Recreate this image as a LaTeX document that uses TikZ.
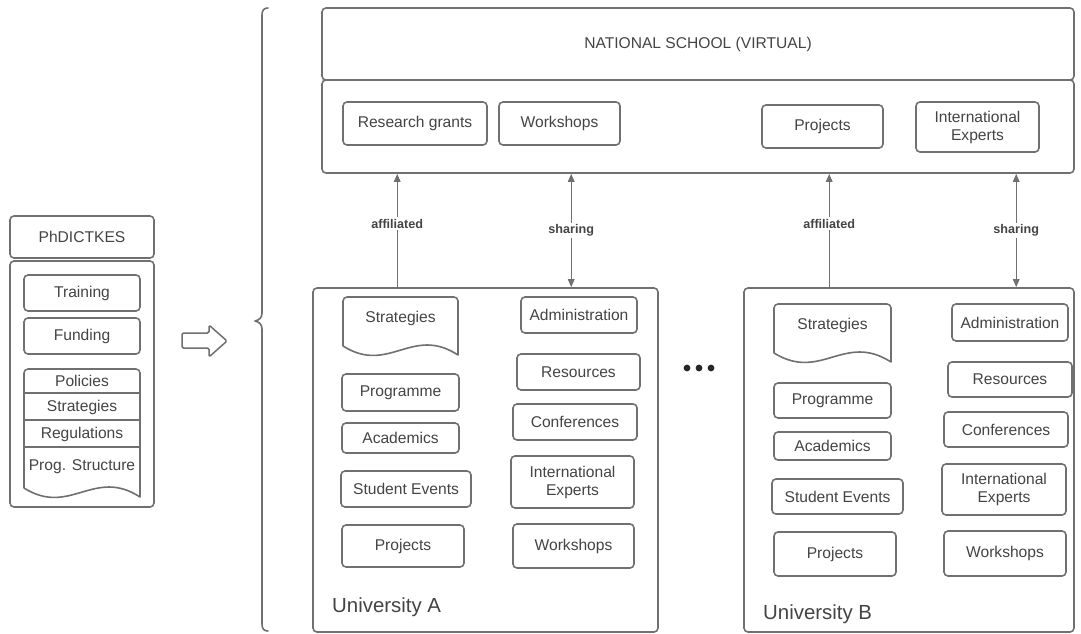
\documentclass[tikz,border=0pt]{standalone}
\usepackage{fontspec}
\setmainfont{Liberation Sans}
\usetikzlibrary{arrows.meta}
\definecolor{ln}{RGB}{112,112,112}
\definecolor{tx}{RGB}{68,68,68}
\tikzset{
  txt/.style={text=tx, font=\fontsize{15.6}{18}\selectfont},
  rb/.style={draw=ln, line width=1.6pt, rounded corners=4pt, inner sep=0pt, txt, align=center},
  con/.style={draw=ln, line width=1.3pt},
  tip/.style={-{Triangle[length=8pt,width=6.5pt]}},
  both/.style={{Triangle[length=8pt,width=6.5pt]}-{Triangle[length=8pt,width=6.5pt]}},
  lbl/.style={fill=white, inner sep=2pt, text=tx, font=\bfseries\fontsize{12.6}{14}\selectfont},
  unilbl/.style={text=tx, font=\fontsize{20.4}{23}\selectfont, anchor=west, inner sep=0pt},
  docu/.style={draw=ln, line width=1.6pt, line join=round}
}
% \bx{style}{name}{x1}{y1}{x2}{y2}{text}
\newcommand{\bx}[7]{\node[#1, minimum width={(#5-#3)*1pt}, minimum height={(#6-#4)*1pt}] (#2) at ({(#3+#5)/2},{(#4+#6)/2}) {#7};}
% \docshape{name}{x1}{ytop}{x2}{ybottom-right}{text}{texty}
\newcommand{\docshape}[7]{%
  \draw[docu] (#2,{#5-9}) [rounded corners=4pt] -- (#2,#3) -- (#4,#3) -- (#4,{#5-12}) [sharp corners] -- (#4,#5)
    .. controls ({#2+0.6*(#4-#2)},{#5-30}) and ({#2+0.4*(#4-#2)},{#5+20}) .. (#2,{#5-9});
  \node[txt, inner sep=0pt] (#1) at ({(#2+#4)/2},#7) {#6};}
\begin{document}
\begin{tikzpicture}[x=1pt,y=-1pt]
\useasboundingbox[fill=white] (0,0) rectangle (1081,634);

% ---------- PhDICTKES ----------
\bx{rb}{ph}{10}{216}{154}{258}{PhDICTKES}
\bx{rb}{phb}{10}{261}{154}{507}{}
\bx{rb}{tr}{24}{275}{140}{311}{Training}
\bx{rb}{fu}{24}{318}{140}{354}{Funding}
\draw[docu] (24,488) [rounded corners=4pt] -- (24,369) -- (140,369) -- (140,480) [sharp corners] -- (140,497)
  .. controls (94,467) and (70,517) .. (24,488);
\draw[docu] (24,393) -- (140,393) (24,420) -- (140,420) (24,447) -- (140,447);
\node[txt, inner sep=0pt] (po) at (82,381) {Policies};
\node[txt, inner sep=0pt] (st) at (82,407) {Strategies};
\node[txt, inner sep=0pt] (re) at (82,434) {Regulations};
\node[txt, inner sep=0pt] (ps) at (82,467) {Prog. Structure};

% hollow arrow
\draw[docu, line width=1.5pt, rounded corners=1.5pt] (182,333) -- (209,333) -- (209,325) -- (227,341) -- (209,357) -- (209,348) -- (182,348) -- cycle;

% brace
\draw[ln, line width=1.6pt, line cap=round, line join=round]
  (268,8) .. controls (264,8) and (262,10) .. (262,15) -- (262,313)
  .. controls (262,318) and (259,320) .. (255,321)
  .. controls (259,322) and (262,324) .. (262,329) -- (262,624)
  .. controls (262,629) and (264,631) .. (268,631);

% ---------- National school ----------
\bx{rb}{ns}{322}{8}{1074}{80}{NATIONAL SCHOOL (VIRTUAL)}
\bx{rb}{ns2}{322}{80}{1074}{173}{}
\bx{rb}{nrg}{343}{102}{487}{145}{Research grants}
\bx{rb}{nws}{499}{102}{620}{145}{Workshops}
\bx{rb}{npr}{762}{105}{883}{148}{Projects}
\bx{rb}{nie}{916}{102}{1039}{152}{International\\Experts}

% ---------- University A ----------
\bx{rb}{uA}{313}{288}{658}{632}{}
\node[unilbl] (uAl) at (332,607) {University A};
\docshape{aSt}{343}{297}{458}{355}{Strategies}{318}
\bx{rb}{aAd}{521}{297}{637}{333}{Administration}
\bx{rb}{aRe}{517}{354}{640}{390}{Resources}
\bx{rb}{aPr}{342}{374}{459}{411}{Programme}
\bx{rb}{aCo}{513}{404}{637}{440}{Conferences}
\bx{rb}{aAc}{342}{423}{459}{453}{Academics}
\bx{rb}{aIE}{511}{456}{634}{508}{International\\Experts}
\bx{rb}{aSE}{341}{471}{471}{507}{Student Events}
\bx{rb}{aPj}{342}{525}{464}{567}{Projects}
\bx{rb}{aWs}{513}{524}{634}{568}{Workshops}

% ---------- University B ----------
\bx{rb}{uB}{744}{288}{1074}{632}{}
\node[unilbl] (uBl) at (763,614) {University B};
\docshape{bSt}{774}{304}{891}{362}{Strategies}{325}
\bx{rb}{bAd}{952}{304}{1068}{341}{Administration}
\bx{rb}{bRe}{948}{362}{1072}{397}{Resources}
\bx{rb}{bPr}{774}{383}{891}{418}{Programme}
\bx{rb}{bCo}{944}{412}{1068}{447}{Conferences}
\bx{rb}{bAc}{774}{432}{891}{460}{Academics}
\bx{rb}{bIE}{942}{464}{1066}{515}{International\\Experts}
\bx{rb}{bSE}{772}{479}{903}{514}{Student Events}
\bx{rb}{bPj}{774}{532}{896}{576}{Projects}
\bx{rb}{bWs}{944}{531}{1066}{576}{Workshops}

% dots
\fill[black!85] (687,368) circle[radius=3.4] (699,368) circle[radius=3.4] (711,368) circle[radius=3.4];

% ---------- connectors ----------
\coordinate (a1) at ([xshift=85pt]uA.north west);
\coordinate (a2) at ([xshift=259pt]uA.north west);
\coordinate (b1) at ([xshift=86pt]uB.north west);
\coordinate (b2) at ([xshift=273pt]uB.north west);
\draw[con, tip] (a1) -- node[lbl, pos=0.56] {affiliated} (a1 |- ns2.south);
\draw[con, both] (a2) -- node[lbl, pos=0.5] {sharing} (a2 |- ns2.south);
\draw[con, tip] (b1) -- node[lbl, pos=0.56] {affiliated} (b1 |- ns2.south);
\draw[con, both] (b2) -- node[lbl, pos=0.5] {sharing} (b2 |- ns2.south);
\end{tikzpicture}
\end{document}
